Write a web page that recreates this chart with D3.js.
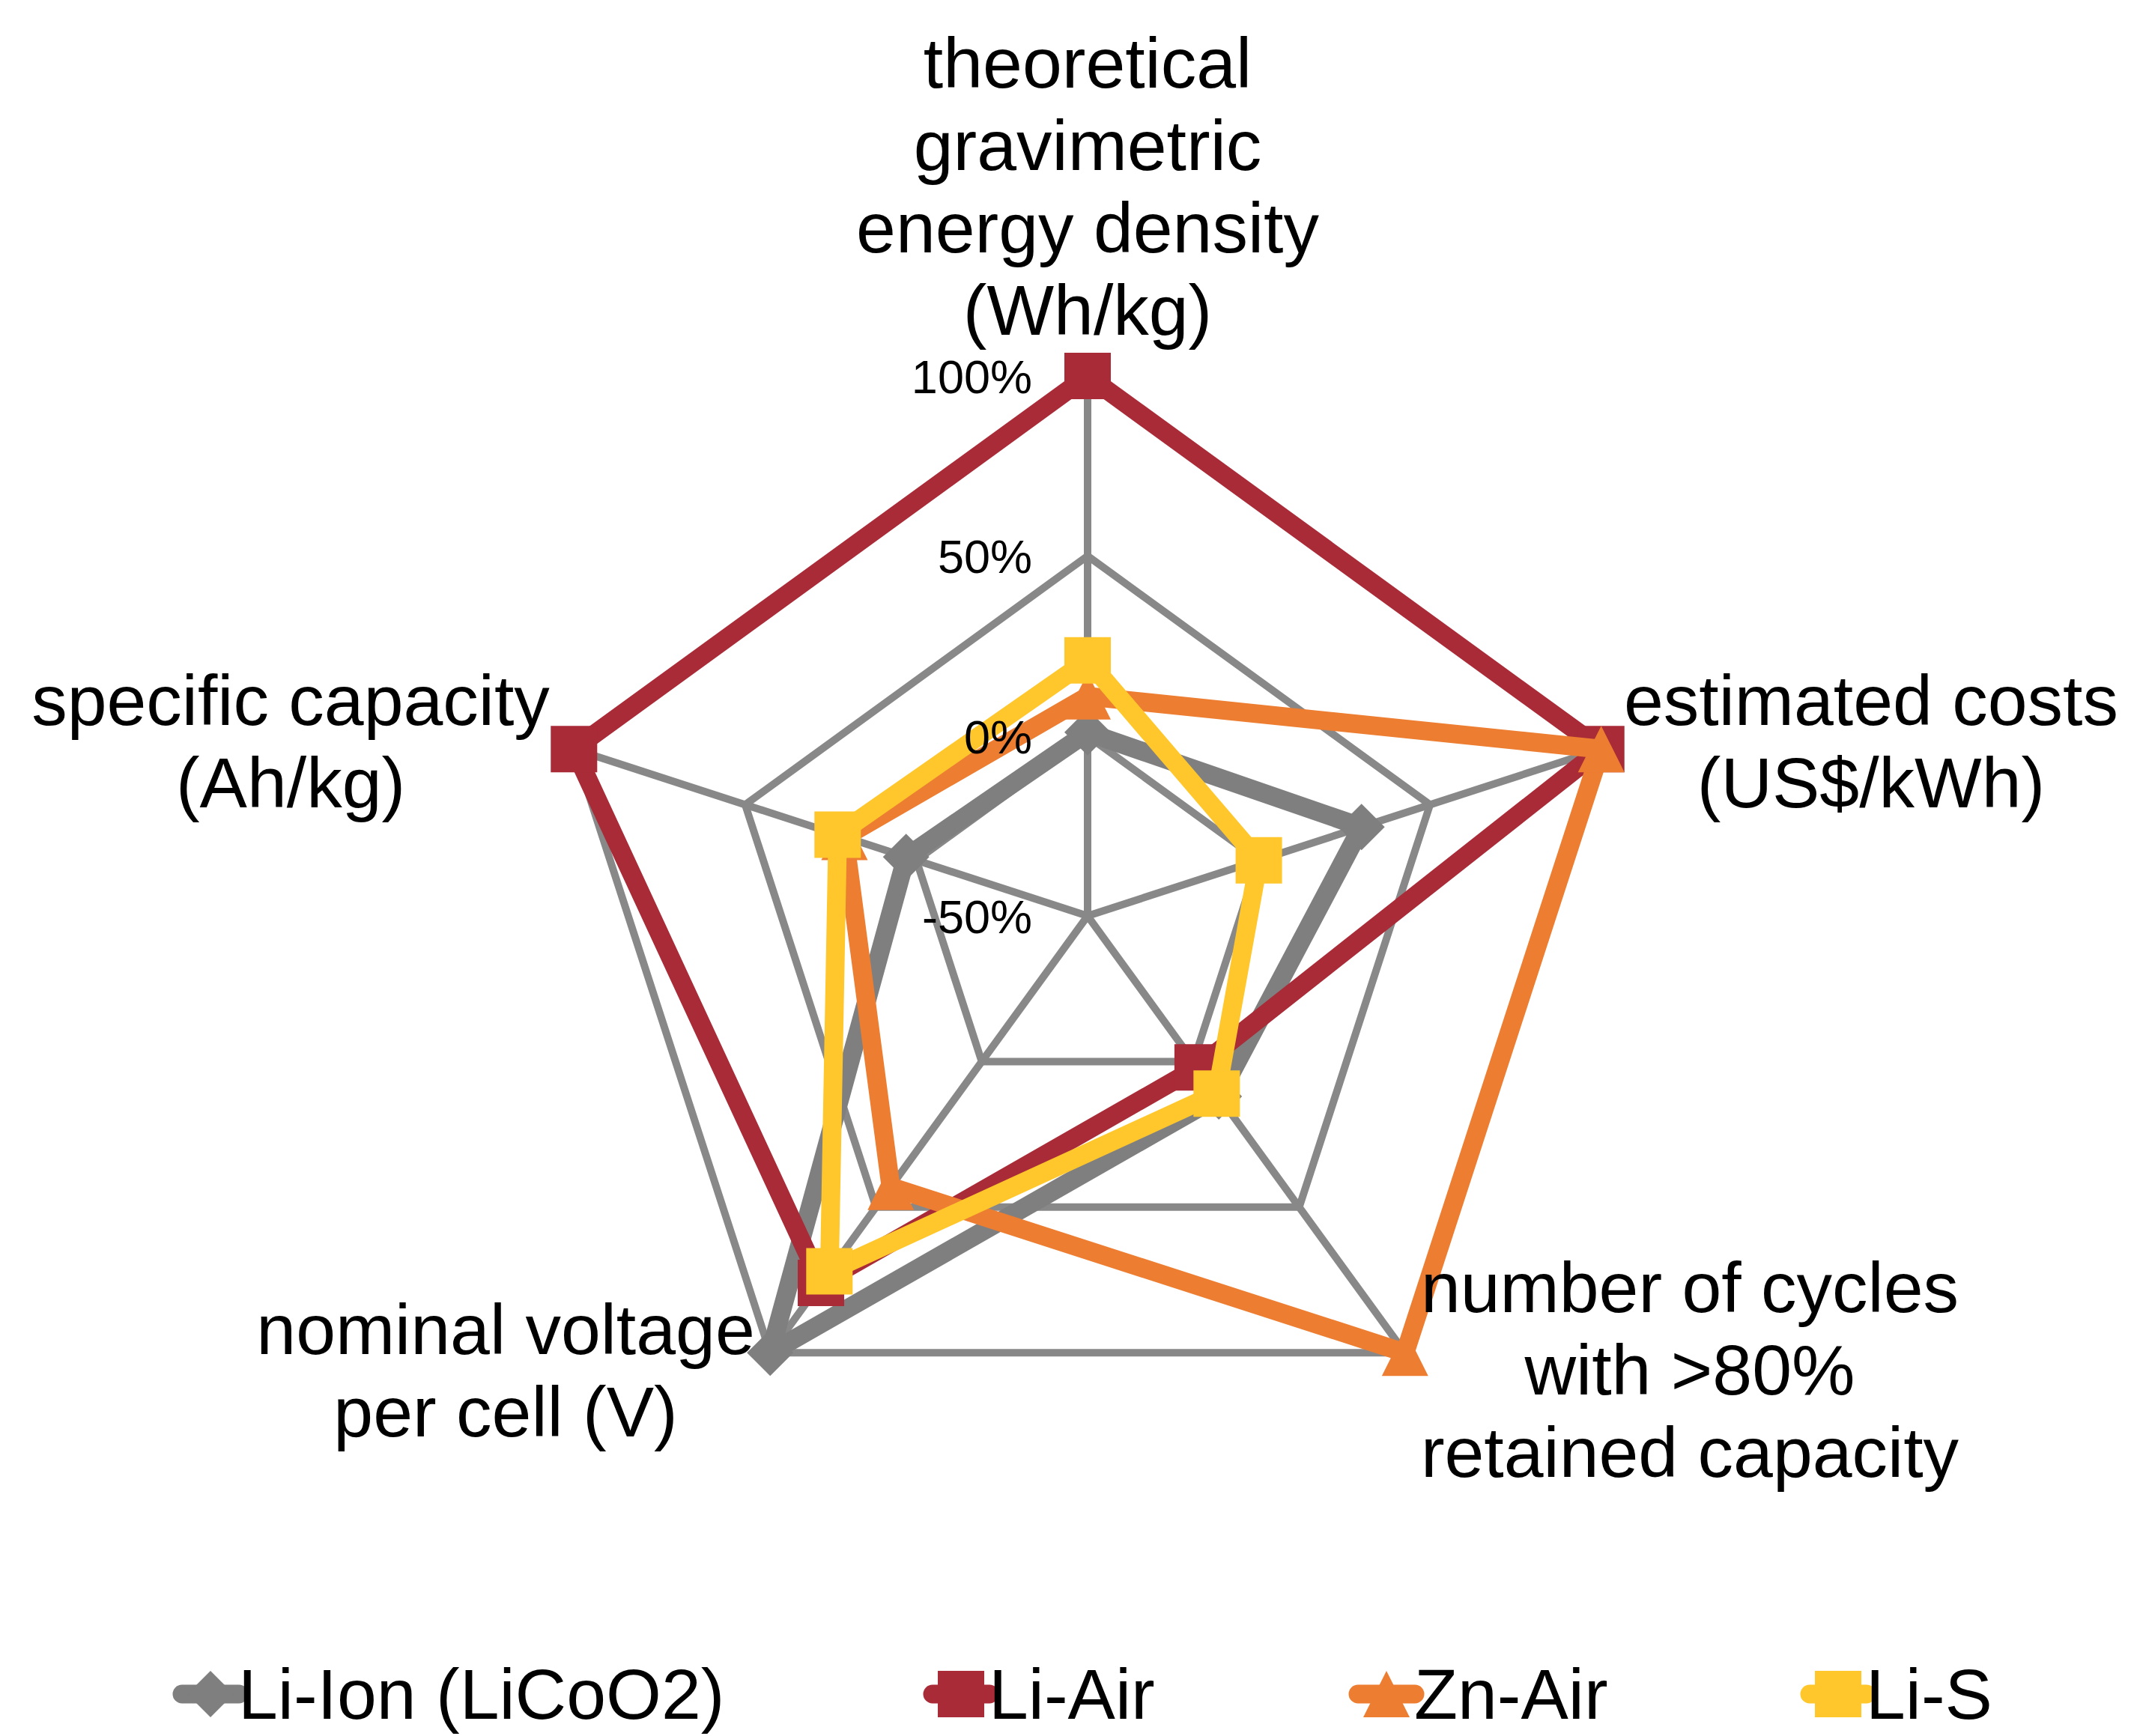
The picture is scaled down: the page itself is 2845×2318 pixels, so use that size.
<!DOCTYPE html>
<html>
<head>
<meta charset="utf-8">
<script src="https://cdn.jsdelivr.net/npm/d3@7/dist/d3.min.js"></script>
<style>
  html, body { margin: 0; padding: 0; background: #ffffff; }
  svg { display: block; }
  text { font-family: "Liberation Sans", Arial, sans-serif; fill: #000; }
</style>
</head>
<body>
<svg id="chart" width="2845" height="2318"></svg>
<script>
// Battery technologies compared on five criteria (relative scale, %)
const axes = [
  ["theoretical", "gravimetric", "energy density", "(Wh/kg)"],
  ["estimated costs", "(US$/kWh)"],
  ["number of cycles", "with >80%", "retained capacity"],
  ["nominal voltage", "per cell (V)"],
  ["specific capacity", "(Ah/kg)"]
];
const seriesNames = ["Li-Ion (LiCoO2)", "Li-Air", "Zn-Air", "Li-S"];
const liIon = [1, 30, 12, 100, 3];
const liAir = [100, 100, 2, 76, 100];
const znAir = [11, 100, 100, 43, 21];
const liS   = [21, 0, 11, 72, 23];
const tickValues = [100, 50, 0, -50];
const tickLabels = ["100%", "50%", "0%", "-50%"];

const seriesValues = [liIon, liAir, znAir, liS];
const colors = ["#7f7f7f", "#a92b37", "#ed7d31", "#ffc72c"];
const markerKinds = ["diamond", "square", "triangle", "square"];

// layout
const cx = 1452, cy = 1223, R = 721;
const lineW = 25, markerSide = 62;
const svg = d3.select("#chart");

const r = d3.scaleLinear().domain([-50, 100]).range([0, R]);
const angle = d3.scaleLinear().domain([0, axes.length]).range([0, 2 * Math.PI]);

const g = svg.append("g").attr("transform", `translate(${cx},${cy})`);

const pt = (i, v) => [Math.sin(angle(i)) * r(v), -Math.cos(angle(i)) * r(v)];

// custom marker shapes, size = side length squared
const symbolDiamond = {
  draw(ctx, size) {
    const h = Math.sqrt(size) / 2;
    ctx.moveTo(0, -h); ctx.lineTo(h, 0); ctx.lineTo(0, h); ctx.lineTo(-h, 0); ctx.closePath();
  }
};
const symbolSquareBox = {
  draw(ctx, size) {
    const h = Math.sqrt(size) / 2;
    ctx.rect(-h, -h, 2 * h, 2 * h);
  }
};
const symbolTriangleBox = {
  draw(ctx, size) {
    const h = Math.sqrt(size) / 2;
    ctx.moveTo(0, -h); ctx.lineTo(h, h); ctx.lineTo(-h, h); ctx.closePath();
  }
};
const symbolTypes = { diamond: symbolDiamond, square: symbolSquareBox, triangle: symbolTriangleBox };
const symbolPath = kind => d3.symbol().type(symbolTypes[kind]).size(markerSide * markerSide)();

// grid: rings and spokes
const gridColor = "#888888";
const ringLine = d3.line().curve(d3.curveLinearClosed);
g.append("g").selectAll("path")
  .data(tickValues.filter(v => v > -50))
  .join("path")
  .attr("d", v => ringLine(d3.range(axes.length).map(i => pt(i, v))))
  .attr("fill", "none")
  .attr("stroke", gridColor)
  .attr("stroke-width", 10);

g.append("g").selectAll("line")
  .data(d3.range(axes.length))
  .join("line")
  .attr("x1", 0).attr("y1", 0)
  .attr("x2", i => pt(i, 100)[0])
  .attr("y2", i => pt(i, 100)[1])
  .attr("stroke", gridColor)
  .attr("stroke-width", 10);

// series: closed line then markers, drawn in series order
const radial = d3.lineRadial()
  .angle((d, i) => angle(i))
  .radius(d => r(d))
  .curve(d3.curveLinearClosed);

seriesValues.forEach((vals, s) => {
  const sg = g.append("g");
  sg.append("path")
    .attr("d", radial(vals))
    .attr("fill", "none")
    .attr("stroke", colors[s])
    .attr("stroke-width", lineW)
    .attr("stroke-linejoin", "round");
  sg.selectAll("path.marker")
    .data(vals)
    .join("path")
    .attr("class", "marker")
    .attr("d", symbolPath(markerKinds[s]))
    .attr("transform", (v, i) => `translate(${pt(i, v)[0]},${pt(i, v)[1]})`)
    .attr("fill", colors[s]);
});

// category labels around the chart (offsets of the first baseline from the centre)
const labelAnchors = [[0, -1106], [1046, -255], [804, 529], [-777, 585], [-1064, -255]];
const labelLineH = 110;
axes.forEach((lines, i) => {
  const t = g.append("text")
    .attr("text-anchor", "middle")
    .attr("font-size", 95);
  lines.forEach((ln, k) => {
    t.append("tspan")
      .attr("x", labelAnchors[i][0])
      .attr("y", labelAnchors[i][1] + k * labelLineH)
      .text(ln);
  });
});

// radial tick labels along the top spoke
g.append("g").selectAll("text")
  .data(tickValues)
  .join("text")
  .attr("x", -74)
  .attr("y", v => -r(v) + 23)
  .attr("text-anchor", "end")
  .attr("font-size", 63)
  .text((v, i) => tickLabels[i]);

// legend
const legendX = [281, 1283, 1851, 2454];
const legendY = 2262;
const lg = svg.append("g");
seriesNames.forEach((name, s) => {
  const x = legendX[s];
  lg.append("line")
    .attr("x1", x - 38).attr("x2", x + 38)
    .attr("y1", legendY).attr("y2", legendY)
    .attr("stroke", colors[s])
    .attr("stroke-width", lineW)
    .attr("stroke-linecap", "round");
  lg.append("path")
    .attr("d", symbolPath(markerKinds[s]))
    .attr("transform", `translate(${x},${legendY})`)
    .attr("fill", colors[s]);
  lg.append("text")
    .attr("x", x + 37)
    .attr("y", 2295)
    .attr("font-size", 95)
    .text(name);
});
</script>
</body>
</html>
